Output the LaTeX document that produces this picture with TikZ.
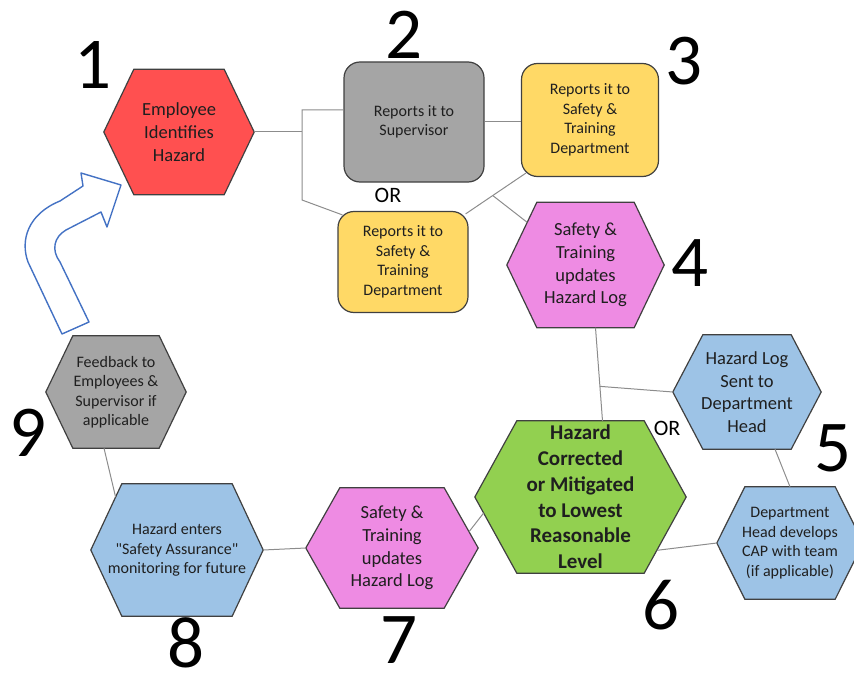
\documentclass[tikz,border=0pt]{standalone}
\usepackage{fontspec}
\setmainfont{Carlito}[Ligatures=TeXOff]
\usetikzlibrary{calc,backgrounds}
\definecolor{hazred}{HTML}{FF5050}
\definecolor{cardgray}{HTML}{A5A5A5}
\definecolor{cardyellow}{HTML}{FFD966}
\definecolor{cellpink}{HTML}{EE8BE3}
\definecolor{cellblue}{HTML}{9DC3E6}
\definecolor{cellgreen}{HTML}{92D050}
\definecolor{edgegray}{HTML}{404040}
\definecolor{linkgray}{HTML}{8C8C8C}
\definecolor{textdark}{HTML}{1F1F1F}
\definecolor{arrowblue}{HTML}{4472C4}
\newcommand{\hexoutline}[3]{%
  \filldraw[cellline, fill=#3] (#1.west) -- ([xshift=#2]#1.north west) -- ([xshift=-#2]#1.north east) -- (#1.east) -- ([xshift=-#2]#1.south east) -- ([xshift=#2]#1.south west) -- cycle;}

\begin{document}
\begin{tikzpicture}[x=1pt, y=-1pt,
  cell/.style={inner sep=0pt, align=center, text=textdark},
  hexcell/.style={cell, font=\fontsize{18.5}{22.7}\selectfont},
  smallhex/.style={cell, font=\fontsize{16}{19.5}\selectfont},
  card/.style={cell, draw=edgegray, line width=1.2pt, rounded corners=16pt, font=\fontsize{16}{19.5}\selectfont},
  cellline/.style={draw=edgegray, line width=1.2pt, line join=miter},
  link/.style={draw=linkgray, line width=1pt},
  stepnum/.style={inner sep=0pt, font=\fontsize{73}{73}\selectfont},
  orlbl/.style={inner sep=0pt, font=\fontsize{22}{22}\selectfont},
  bigarrow/.style={draw=arrowblue, line width=1.4pt, fill=white, line join=round}]
  \useasboundingbox (0,0) rectangle (854,674);
  \clip (0,0) rectangle (854,674);
  \node[hexcell, minimum width=150pt, minimum height=125pt] (spot1) at (179,132) {Employee\\Identifies\\Hazard};
  \node[card, fill=cardgray, minimum width=140pt, minimum height=120pt] (super2) at (414,122) {Reports it to\\Supervisor};
  \node[card, fill=cardyellow, minimum width=130pt, minimum height=101pt] (safety2) at (403,262) {Reports it to\\Safety \&\\Training\\Department};
  \node[card, fill=cardyellow, minimum width=137pt, minimum height=113pt] (safety3) at (590,120) {Reports it to\\Safety \&\\Training\\Department};
  \node[hexcell, minimum width=157pt, minimum height=125pt] (log4) at (585.5,265) {Safety \&\\Training\\updates\\Hazard Log};
  \node[hexcell, minimum width=148pt, minimum height=114pt] (head5) at (747,392) {Hazard Log\\Sent to\\Department\\Head};
  \node[smallhex, minimum width=146pt, minimum height=112pt] (cap5) at (790,543) {Department\\Head develops\\CAP with team\\(if applicable)};
  \node[cell, font=\fontsize{21}{25.8}\selectfont\bfseries, minimum width=211pt, minimum height=152pt] (fix6) at (580.5,497) {Hazard\\Corrected\\or Mitigated\\to Lowest\\Reasonable\\Level};
  \node[hexcell, minimum width=172pt, minimum height=120pt] (log7) at (392,548) {Safety \&\\Training\\updates\\Hazard Log};
  \node[smallhex, minimum width=172pt, minimum height=132pt] (watch8) at (177,550) {Hazard enters\\"Safety Assurance"\\monitoring for future};
  \node[smallhex, minimum width=140pt, minimum height=112pt] (back9) at (116,392) {Feedback to\\Employees \&\\Supervisor if\\applicable};
  \begin{scope}[on background layer]
    \hexoutline{spot1}{30pt}{hazred}
    \hexoutline{log4}{30pt}{cellpink}
    \hexoutline{head5}{30pt}{cellblue}
    \hexoutline{cap5}{28pt}{cellblue}
    \hexoutline{fix6}{42pt}{cellgreen}
    \hexoutline{log7}{34pt}{cellpink}
    \hexoutline{watch8}{31pt}{cellblue}
    \hexoutline{back9}{27pt}{cardgray}
  \end{scope}
  \node[stepnum] (num1) at (93,65) {1};
  \node[stepnum] (num2) at (404,35) {2};
  \node[stepnum] (num3) at (684,61) {3};
  \node[stepnum] (num4) at (690,263) {4};
  \node[stepnum] (num5) at (833,448) {5};
  \node[stepnum] (num6) at (661,605) {6};
  \node[stepnum] (num7) at (399,640) {7};
  \node[stepnum] (num8) at (186,643) {8};
  \node[stepnum] (num9) at (28,433) {9};
  \node[orlbl] (or2) at (388,195) {OR};
  \node[orlbl] (or6) at (667,428) {OR};
  \coordinate (fork) at (302,132);
  \coordinate (forkfoot) at (302,200);
  \draw[link] (spot1.east) -- (fork);
  \draw[link] ([yshift=12pt]super2.west) -| (forkfoot) -- ([xshift=5pt,yshift=-4pt]safety2.north west);
  \draw[link] (super2.east) -- (super2.east -| safety3.west);
  \draw[link] ([xshift=-3pt,yshift=-3pt]safety2.north east) -- coordinate[pos=0.45] (join4) ([xshift=5pt,yshift=4pt]safety3.south west);
  \draw[link] (join4) -- ($(log4.west)!0.68!([xshift=30pt]log4.north west)$);
  \draw[link] ([xshift=10pt]log4.south) -- coordinate[pos=0.63] (join5) ([xshift=22pt]fix6.north);
  \draw[link] (join5) -- (head5.west);
  \draw[link] ([xshift=28pt]head5.south) -- (cap5.north);
  \draw[link] (cap5.west) -- ($(fix6.east)!0.7!([xshift=-42pt]fix6.south east)$);
  \draw[link] ($(fix6.west)!0.21!([xshift=42pt]fix6.south west)$) -- ($(log7.east)!0.27!([xshift=-34pt]log7.north east)$);
  \draw[link] (log7.west) -- (watch8.east);
  \draw[link] ($(watch8.west)!0.8!([xshift=31pt]watch8.north west)$) -- ([xshift=-12pt]back9.south);
  \draw[bigarrow] (62,334) -- (28,262) .. controls (20,240) and (28,214) .. (60,201) -- (83,186) -- (81,173) -- (121,185) -- (107,227) -- (101,212) -- (66,230) .. controls (54,237) and (51,250) .. (60,262) -- (89,322) -- cycle;
\end{tikzpicture}
\end{document}
